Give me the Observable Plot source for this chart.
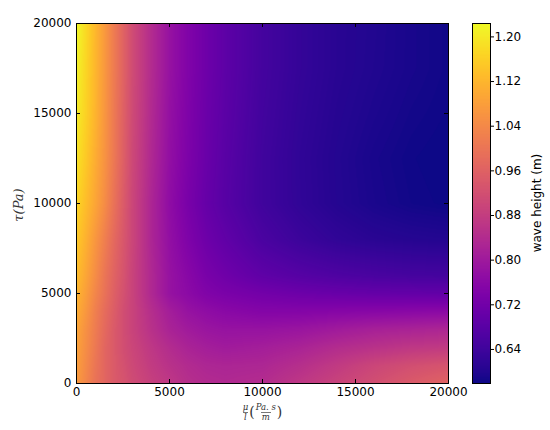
<!DOCTYPE html>
<html>
<head>
<meta charset="utf-8">
<script src="https://cdn.jsdelivr.net/npm/d3@7"></script>
<script src="https://cdn.jsdelivr.net/npm/@observablehq/plot@0.6"></script>
<style>
  body { margin: 0; background: #fff; }
  #wrap { position: relative; width: 550px; height: 430px; font-family: "DejaVu Sans", sans-serif; }
  #main, #cbar { position: absolute; top: 0; }
  #main { left: 0; z-index: 2; }
  #cbar { left: 460px; z-index: 1; }
  #ylab { position: absolute; left: 18px; top: 205px; transform: translate(-50%, -50%) rotate(-90deg);
          font-family: "DejaVu Serif", serif; font-style: italic; font-size: 13px; color: #333; white-space: nowrap; }
  #cblab { position: absolute; left: 537px; top: 203px; transform: translate(-50%, -50%) rotate(-90deg);
           font-size: 12px; color: #000; white-space: nowrap; }
  #xlab { position: absolute; left: 0; width: 524px; top: 401px; text-align: center;
          font-family: "DejaVu Serif", serif; font-style: italic; color: #333; white-space: nowrap; }
  .frac { display: inline-flex; flex-direction: column; align-items: center; vertical-align: middle;
          font-size: 8.5px; line-height: 8px; }
  .frac .den { border-top: 0.7px solid #777; padding: 0 1px; }
  .frac .num { padding: 0 1px 1px 1px; }
  .paren { font-size: 14px; vertical-align: middle; font-style: normal; }
</style>
</head>
<body>
<div id="wrap">
  <div id="main"></div>
  <div id="cbar"></div>
  <div id="ylab">τ(Pa)</div>
  <div id="xlab"><span class="frac"><span class="num">μ</span><span class="den">l</span></span><span class="paren">(</span><span class="frac"><span class="num">Pa. s</span><span class="den">m</span></span><span class="paren">)</span></div>
  <div id="cblab">wave height (m)</div>
</div>
<script>
// grid coordinates
const muValues = [0, 500, 1000, 1500, 2000, 2500, 3000, 4000, 5000, 6000, 7000, 8000, 10000, 12000, 14000, 16000, 18000, 20000];
const tauValues = [0, 1000, 2000, 3000, 4000, 5000, 6000, 8000, 10000, 12500, 15000, 17500, 20000];

// wave height (m) per τ row, one value per μ/l column
const heightTau0     = [1.074,1.036,0.997,0.971,0.945,0.932,0.913,0.887,0.868,0.848,0.839,0.835,0.842,0.868,0.894,0.919,0.945,0.965];
const heightTau1000  = [1.081,1.042,1.003,0.971,0.945,0.926,0.906,0.877,0.855,0.839,0.829,0.826,0.829,0.848,0.874,0.900,0.919,0.932];
const heightTau2000  = [1.087,1.049,1.010,0.971,0.945,0.919,0.900,0.868,0.842,0.822,0.810,0.803,0.810,0.822,0.842,0.855,0.868,0.874];
const heightTau3000  = [1.094,1.055,1.016,0.978,0.945,0.919,0.894,0.855,0.822,0.803,0.790,0.784,0.784,0.790,0.803,0.816,0.822,0.829];
const heightTau4000  = [1.107,1.068,1.023,0.984,0.952,0.919,0.894,0.848,0.810,0.784,0.771,0.761,0.751,0.751,0.755,0.758,0.761,0.764];
const heightTau5000  = [1.120,1.081,1.036,0.997,0.958,0.926,0.894,0.835,0.784,0.764,0.745,0.735,0.722,0.712,0.705,0.700,0.697,0.695];
const heightTau6000  = [1.133,1.094,1.049,1.003,0.965,0.932,0.894,0.835,0.784,0.758,0.732,0.716,0.690,0.675,0.664,0.656,0.650,0.647];
const heightTau8000  = [1.152,1.113,1.068,1.023,0.978,0.939,0.900,0.829,0.777,0.742,0.713,0.693,0.658,0.636,0.620,0.610,0.605,0.602];
const heightTau10000 = [1.171,1.133,1.094,1.049,0.997,0.948,0.900,0.829,0.771,0.732,0.700,0.677,0.642,0.620,0.604,0.592,0.584,0.580];
const heightTau12500 = [1.191,1.152,1.107,1.062,1.010,0.958,0.906,0.835,0.777,0.739,0.706,0.680,0.642,0.619,0.603,0.590,0.582,0.578];
const heightTau15000 = [1.204,1.165,1.120,1.068,1.013,0.961,0.910,0.839,0.780,0.742,0.709,0.684,0.645,0.622,0.606,0.595,0.586,0.581];
const heightTau17500 = [1.213,1.171,1.123,1.071,1.016,0.965,0.913,0.842,0.784,0.745,0.713,0.687,0.648,0.625,0.609,0.599,0.590,0.583];
const heightTau20000 = [1.223,1.178,1.126,1.074,1.016,0.965,0.913,0.842,0.784,0.745,0.713,0.687,0.648,0.625,0.609,0.600,0.590,0.583];

// tick labels
const xTicks = [0, 5000, 10000, 15000, 20000];
const yTicks = [0, 5000, 10000, 15000, 20000];
const colorTicks = [0.64, 0.72, 0.80, 0.88, 0.96, 1.04, 1.12, 1.20];
const colorDomain = [0.579, 1.224];

const rows = [heightTau0, heightTau1000, heightTau2000, heightTau3000, heightTau4000, heightTau5000,
  heightTau6000, heightTau8000, heightTau10000, heightTau12500, heightTau15000, heightTau17500, heightTau20000];
const points = [];
tauValues.forEach((t, i) => muValues.forEach((m, j) => points.push({x: m, y: t, v: rows[i][j]})));

// bilinear interpolation between the grid samples (raster pixel space)
function bilinearGrid(index, width, height, X, Y, V) {
  const r = v => Math.round(v * 1e4) / 1e4;
  const xs = Array.from(new Set(Array.from(index, i => r(X[i])))).sort((a, b) => a - b);
  const ys = Array.from(new Set(Array.from(index, i => r(Y[i])))).sort((a, b) => a - b);
  const grid = new Map();
  for (const i of index) grid.set(r(X[i]) + "," + r(Y[i]), V[i]);
  const get = (a, b) => grid.get(xs[a] + "," + ys[b]);
  const locate = (arr, p) => {
    let k = 0;
    while (k < arr.length - 2 && p > arr[k + 1]) k++;
    let t = (p - arr[k]) / (arr[k + 1] - arr[k]);
    t = Math.max(0, Math.min(1, t));
    return [k, t];
  };
  const out = new Array(width * height);
  const xl = []; for (let px = 0; px < width; px++) xl.push(locate(xs, px + 0.5));
  for (let py = 0; py < height; py++) {
    const [j, u] = locate(ys, py + 0.5);
    for (let px = 0; px < width; px++) {
      const [i, t] = xl[px];
      const v00 = get(i, j), v10 = get(i + 1, j), v01 = get(i, j + 1), v11 = get(i + 1, j + 1);
      out[py * width + px] = (1 - u) * ((1 - t) * v00 + t * v10) + u * ((1 - t) * v01 + t * v11);
    }
  }
  return out;
}

const color = {type: "linear", scheme: "plasma", domain: colorDomain};
const style = {fontFamily: "DejaVu Sans", fontSize: "12px", color: "black", background: "none", overflow: "visible"};

const plotW = 460 - 76 - 12, plotH = 430 - 23 - 47, tl = 4;

const main = Plot.plot({
  width: 460, height: 430,
  marginLeft: 76, marginRight: 12, marginTop: 23, marginBottom: 47,
  x: {domain: [0, 20000]},
  y: {domain: [0, 20000]},
  color,
  style,
  marks: [
    Plot.raster(points, {x: "x", y: "y", fill: "v", interpolate: bilinearGrid, x1: 0, x2: 20000, y1: 0, y2: 20000}),
    Plot.tickX(xTicks, {x: d => d, insetTop: plotH - tl, stroke: "black"}),
    Plot.tickX(xTicks, {x: d => d, insetBottom: plotH - tl, stroke: "black"}),
    Plot.tickY(yTicks, {y: d => d, insetRight: plotW - tl, stroke: "black"}),
    Plot.tickY(yTicks, {y: d => d, insetLeft: plotW - tl, stroke: "black"}),
    Plot.frame({stroke: "black"}),
    Plot.axisX(xTicks, {tickSize: 0, tickPadding: 4, label: null, fontSize: 12, tickFormat: d => String(d)}),
    Plot.axisY(yTicks, {tickSize: 0, tickPadding: 5, label: null, fontSize: 12, tickFormat: d => String(d)})
  ]
});
document.getElementById("main").appendChild(main);

const cbar = Plot.plot({
  width: 90, height: 430,
  marginLeft: 12, marginRight: 60, marginTop: 23, marginBottom: 47,
  x: {domain: [0, 1], axis: null},
  y: {domain: colorDomain, axis: null},
  color,
  style,
  marks: [
    Plot.raster({fill: (x, y) => y, x1: 0, x2: 1, y1: colorDomain[0], y2: colorDomain[1]}),
    Plot.frame({stroke: "black"}),
    Plot.axisY(colorTicks, {anchor: "right", tickSize: 3, tickPadding: 1, tickFormat: d => d.toFixed(2), label: null, fontSize: 12})
  ]
});
document.getElementById("cbar").appendChild(cbar);
</script>
</body>
</html>
